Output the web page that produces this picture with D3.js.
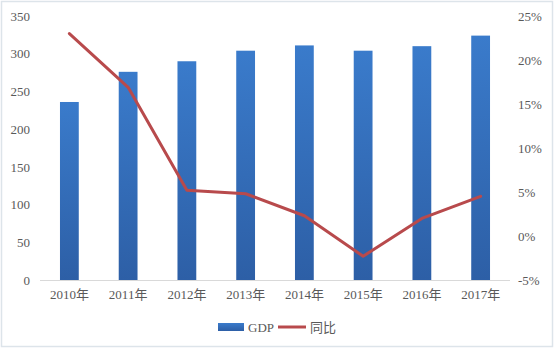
<!DOCTYPE html>
<html>
<head>
<meta charset="utf-8">
<script src="https://cdn.jsdelivr.net/npm/d3@7"></script>
<style>
  html, body { margin: 0; padding: 0; background: #fff; }
  svg { display: block; }
  .tick text { font-family: "Liberation Serif", "Noto Sans CJK SC", serif; fill: #595959; }
</style>
</head>
<body>
<svg id="chart" width="555" height="349"></svg>
<script>
// GDP by year (bars, left axis) and year-on-year change (line, right axis, %)
const years = ["2010年", "2011年", "2012年", "2013年", "2014年", "2015年", "2016年", "2017年"];
const gdp = [236, 276, 290, 304, 311, 304, 310, 324];
const yoy = [23.0, 16.9, 5.2, 4.8, 2.3, -2.3, 2.0, 4.5];
const leftTicks = [0, 50, 100, 150, 200, 250, 300, 350];
const rightTicks = [-5, 0, 5, 10, 15, 20, 25];
const legendLabels = ["GDP", "同比"];

const svg = d3.select("#chart");
const W = 555, H = 349;
const plot = { left: 40, right: 510, top: 16, bottom: 280 };

// frame
svg.append("rect")
  .attr("x", 1.5).attr("y", 1.5)
  .attr("width", W - 4).attr("height", H - 4)
  .attr("fill", "#fff").attr("stroke", "#dde4ea").attr("stroke-width", 1.5);

const x = d3.scaleBand().domain(years).range([plot.left, plot.right]).paddingInner(0.68).paddingOuter(0.34);
const yL = d3.scaleLinear().domain([0, 350]).range([plot.bottom, plot.top]);
const yR = d3.scaleLinear().domain([-5, 25]).range([plot.bottom, plot.top]);

// bar gradient
const defs = svg.append("defs");
const grad = defs.append("linearGradient").attr("id", "barGrad")
  .attr("x1", 0).attr("y1", 0).attr("x2", 0).attr("y2", 1);
grad.append("stop").attr("offset", "0%").attr("stop-color", "#3a7bcb");
grad.append("stop").attr("offset", "100%").attr("stop-color", "#2d5fa6");

// bars
svg.append("g").selectAll("rect").data(gdp).join("rect")
  .attr("x", (d, i) => x(years[i]))
  .attr("y", d => yL(d))
  .attr("width", x.bandwidth())
  .attr("height", d => yL(0) - yL(d))
  .attr("fill", "url(#barGrad)");

// bottom axis
const xAxis = svg.append("g")
  .attr("transform", `translate(0,${plot.bottom})`)
  .call(d3.axisBottom(x).tickSize(0).tickPadding(10));
xAxis.select(".domain").attr("stroke", "#d9d9d9").attr("d", `M${plot.left},0.5H${plot.right}`);
xAxis.selectAll(".tick text").attr("font-size", 13);

// left axis
const lAxis = svg.append("g")
  .attr("transform", `translate(${plot.left},0)`)
  .call(d3.axisLeft(yL).tickValues(leftTicks).tickSize(0).tickPadding(10));
lAxis.select(".domain").remove();
lAxis.selectAll(".tick text").attr("font-size", 13);

// right axis
const rAxis = svg.append("g")
  .attr("transform", `translate(${plot.right},0)`)
  .call(d3.axisRight(yR).tickValues(rightTicks).tickFormat(d => d + "%").tickSize(0).tickPadding(8));
rAxis.select(".domain").remove();
rAxis.selectAll(".tick text").attr("font-size", 13);

// year-on-year line
const line = d3.line()
  .x((d, i) => x(years[i]) + x.bandwidth() / 2)
  .y(d => yR(d));
svg.append("path")
  .datum(yoy)
  .attr("d", line)
  .attr("fill", "none")
  .attr("stroke", "#b84a4c")
  .attr("stroke-width", 3)
  .attr("stroke-linejoin", "round")
  .attr("stroke-linecap", "round");

// legend
const lg = svg.append("g").attr("transform", "translate(218,327)");
lg.append("rect").attr("x", 0).attr("y", -4).attr("width", 26).attr("height", 8).attr("fill", "url(#barGrad)");
lg.append("text").attr("x", 30).attr("y", 5)
  .attr("font-family", "Liberation Serif, serif").attr("font-size", 13).attr("fill", "#595959")
  .text(legendLabels[0]);
lg.append("line").attr("x1", 60).attr("x2", 88).attr("y1", 0).attr("y2", 0)
  .attr("stroke", "#b84a4c").attr("stroke-width", 3);
lg.append("text").attr("x", 92).attr("y", 5)
  .attr("font-family", "Noto Sans CJK SC, sans-serif").attr("font-size", 13).attr("fill", "#595959")
  .text(legendLabels[1]);
</script>
</body>
</html>
